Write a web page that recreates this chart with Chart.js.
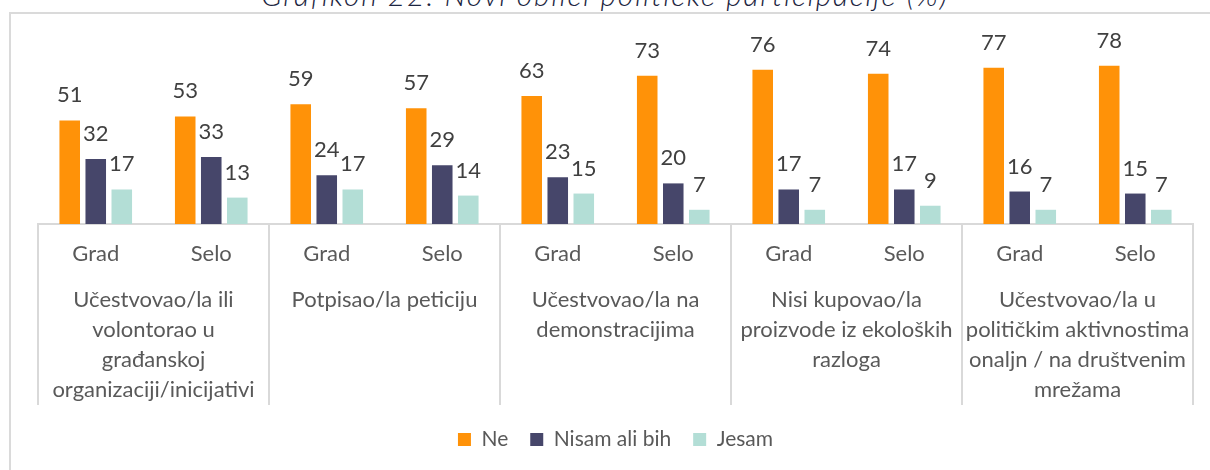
<!DOCTYPE html>
<html>
<head>
<meta charset="utf-8">
<script src="https://cdn.jsdelivr.net/npm/chart.js@4"></script>
<style>
  html, body { margin: 0; padding: 0; background: #fff; }
  #wrap { position: relative; width: 1210px; height: 470px; overflow: hidden; }
  #frame { position: absolute; left: 9px; top: 12px; width: 1220px; height: 480px;
           border-left: 2px solid #dadada; border-top: 2px solid #dadada; }
  #title { position: absolute; left: 0; width: 1210px; top: -21px; text-align: center;
           font: italic 300 30px Lato, sans-serif; line-height: 30px; color: #1c2541;
           letter-spacing: 1.8px; }
  #box { position: absolute; left: 0; top: 0; width: 1210px; height: 470px; }
</style>
</head>
<body>
<div id="wrap">
  <div id="frame"></div>
  <div id="title">Grafikon 22: Novi oblici političke participacije (%)</div>
  <div id="box"><canvas id="chart"></canvas></div>
</div>
<script>
// kategorije
const naselja = ["Grad", "Selo", "Grad", "Selo", "Grad", "Selo", "Grad", "Selo", "Grad", "Selo"]
const oblici = [
  ["Učestvovao/la ili", "volontorao u", "građanskoj", "organizaciji/inicijativi"],
  ["Potpisao/la peticiju"],
  ["Učestvovao/la na", "demonstracijima"],
  ["Nisi kupovao/la", "proizvode iz ekoloških", "razloga"],
  ["Učestvovao/la u", "političkim aktivnostima", "onaljn / na društvenim", "mrežama"],
]

// vrijednosti (%)
const ne = [51, 53, 59, 57, 63, 73, 76, 74, 77, 78]
const nisamAliBih = [32, 33, 24, 29, 23, 20, 17, 17, 16, 15]
const jesam = [17, 13, 17, 14, 15, 7, 7, 9, 7, 7]

const fontFamily = "Lato, 'Open Sans', sans-serif"
const lineColor = "#d9d9d9"

// oznake vrijednosti iznad stubaca + vertikalne linije osi
const extrasPlugin = {
  id: "extras",
  afterDraw(chart) {
    const ctx = chart.ctx
    const x = chart.scales.x
    const area = chart.chartArea

    // separatori izmedju grupa
    ctx.save()
    ctx.strokeStyle = lineColor
    ctx.lineWidth = 2
    const bottom = area.bottom + 181
    for (let i = 0; i <= naselja.length; i += 2) {
      let px
      if (i === 0) px = area.left
      else if (i === naselja.length) px = area.right
      else px = (x.getPixelForValue(i - 1) + x.getPixelForValue(i)) / 2
      ctx.beginPath()
      ctx.moveTo(px, area.bottom)
      ctx.lineTo(px, bottom)
      ctx.stroke()
    }
    ctx.restore()

    // vrijednosti
    ctx.save()
    ctx.font = "22px " + fontFamily
    ctx.fillStyle = "#404040"
    ctx.textAlign = "center"
    ctx.textBaseline = "alphabetic"
    chart.data.datasets.forEach((ds, di) => {
      const meta = chart.getDatasetMeta(di)
      meta.data.forEach((bar, i) => {
        ctx.fillText(String(ds.data[i]), bar.x, bar.y - 18)
      })
    })
    ctx.restore()
  },
}

const ctx = document.getElementById("chart").getContext("2d")
new Chart(ctx, {
  type: "bar",
  data: {
    labels: naselja,
    datasets: [
      { label: "Ne", data: ne, backgroundColor: "#ff9208" },
      { label: "Nisam ali bih", data: nisamAliBih, backgroundColor: "#46466a" },
      { label: "Jesam", data: jesam, backgroundColor: "#b3ded6" },
    ],
  },
  options: {
    responsive: true,
    maintainAspectRatio: false,
    animation: false,
    layout: { padding: { left: 38, right: 17, top: 21, bottom: 10 } },
    datasets: {
      bar: { categoryPercentage: 0.676, barPercentage: 0.79, borderWidth: 0 },
    },
    plugins: {
      legend: {
        position: "bottom",
        labels: {
          boxWidth: 13,
          boxHeight: 13,
          padding: 22,
          color: "#595959",
          font: { family: fontFamily, size: 21 },
        },
      },
      tooltip: { enabled: false },
    },
    scales: {
      y: { display: false, min: 0, max: 100 },
      x: {
        offset: true,
        grid: { display: false, drawTicks: false },
        border: { display: true, color: lineColor, width: 2 },
        ticks: {
          color: "#595959",
          font: { family: fontFamily, size: 22 },
          padding: 17,
          maxRotation: 0,
          autoSkip: false,
        },
        afterFit: (scale) => { scale.height = 50 },
      },
      x2: {
        type: "category",
        labels: oblici,
        position: "bottom",
        offset: true,
        grid: { display: false, drawTicks: false },
        border: { display: false },
        ticks: {
          color: "#595959",
          font: { family: fontFamily, size: 22, lineHeight: "30px" },
          padding: 11,
          maxRotation: 0,
          autoSkip: false,
        },
        afterFit: (scale) => { scale.height = 133 },
      },
    },
  },
  plugins: [extrasPlugin],
})
</script>
</body>
</html>
